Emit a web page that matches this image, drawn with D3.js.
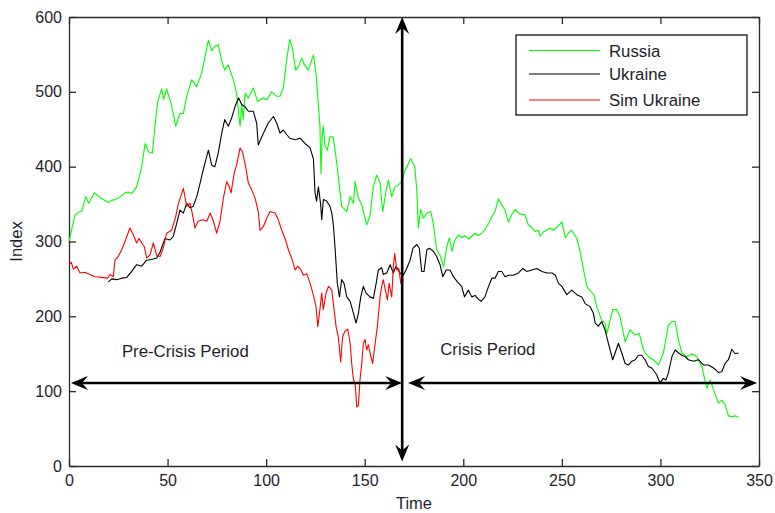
<!DOCTYPE html>
<html>
<head>
<meta charset="utf-8">
<script src="https://cdn.jsdelivr.net/npm/d3@7/dist/d3.min.js"></script>
<style>
  html, body { margin: 0; padding: 0; background: #fff; }
  svg { display: block; font-family: Arial, "Liberation Sans", sans-serif; }
</style>
</head>
<body>
<svg id="chart" width="775" height="513"></svg>
<script>
// Index series: [time, index value]
const russia = [[0,300],[1.5,318],[3,335],[4.7,339],[6.4,340],[8.5,360],[10,351],[11.5,358],[13,365],[14.5,362],[16,358],[18,355],[20,352],[21.5,355],[23.3,356],[25,358],[27,362],[28.4,365],[30,366],[31.8,364],[34.3,373],[35.5,385],[36.9,400],[38.6,431],[40.3,420],[42.3,418],[43.6,454],[45,487],[47,504],[48,490],[49.5,504],[51.7,485],[53,470],[54.1,454],[56.3,471],[58,471],[59.7,494],[62.2,516],[63.5,512],[64.8,507],[67.3,525],[69,547],[70.7,569],[72.4,555],[74,561],[75.7,563],[77.5,541],[79,529],[80.8,536],[83.4,516],[85,498],[86.8,454],[87.6,483],[88.4,463],[89.3,498],[91,492],[93.5,505],[95.7,487],[98.6,492],[100.3,489],[102.8,500],[105.4,494],[107,494],[108.7,505],[110.4,543],[112,570],[113.3,559],[115,529],[116.5,534],[118,545],[119.5,536],[121.4,529],[124,549],[125.3,525],[126.3,490],[127.3,454],[127.8,391],[128.4,439],[129,454],[129.8,428],[131,422],[132.4,440],[134,440],[135,422],[136.6,387],[138.3,347],[140.9,340],[142.6,360],[144.3,351],[145.1,380],[146.8,358],[148.5,349],[151,322],[152.7,335],[154.4,373],[156.1,389],[157.8,378],[159.1,340],[160.8,367],[162,382],[163.7,360],[165.4,373],[166.8,375],[168.8,380],[170.5,396],[171.5,400],[173.3,411],[175.4,400],[176.4,369],[177.2,318],[178.4,343],[179.8,331],[181.5,338],[183.5,340],[184.8,324],[186.5,289],[188.2,282],[190,266],[191.6,293],[193,305],[194.2,287],[195.8,302],[197.5,309],[199.2,305],[200.9,308],[202.6,303],[204.3,307],[206,311],[207.7,308],[209.4,311],[211,316],[212.8,324],[214.5,333],[216.1,340],[217.8,357],[219.5,349],[221.2,342],[222.9,326],[224.6,336],[226.3,343],[228,338],[229.6,336],[231.3,336],[233,322],[234.7,319],[236.4,313],[238.1,315],[239,307],[240.7,313],[242.4,315],[244,318],[245.7,315],[247.4,319],[250,326],[251.8,305],[253.5,312],[255,315],[257.6,304],[259.3,286],[261,262],[262.7,240],[264,235],[266.2,229],[267.7,213],[270.2,195],[271.9,191],[272.8,177],[274.5,195],[275.8,209],[277.8,209],[279.5,200],[282.1,166],[284.6,182],[287.2,175],[289.3,177],[291.4,155],[293.9,146],[296.4,142],[299,135],[301.5,151],[304,188],[305.8,193],[307.5,193],[309.2,168],[310.9,151],[313.4,146],[316,150],[318.5,146],[321,133],[323.5,104],[325.2,115],[326.9,102],[329.4,84],[331.1,88],[332.8,82],[334.5,67],[336.2,66],[338,67],[339.6,65]];

const ukraine = [[20,246],[21.7,250],[24.2,249],[26.7,251],[29.3,252],[31.8,260],[34.3,269],[36.9,267],[39.4,275],[41.9,276],[44.5,278],[46.2,286],[48.7,304],[51.2,302],[52.9,307],[54.6,324],[56.3,342],[58,338],[59.7,351],[61.4,345],[63,347],[64.8,360],[66.5,378],[68.1,396],[70.7,422],[72.4,402],[74,400],[75.7,418],[77.5,445],[79,463],[80.8,454],[82.5,465],[84.2,480],[86,492],[87.6,483],[89.3,480],[91,474],[93.5,474],[95.2,458],[96,429],[97.8,440],[99.4,449],[101,458],[103.7,467],[105.4,458],[107,445],[108.7,449],[110.4,443],[112,438],[114.7,436],[117.2,438],[119.7,431],[122.3,425],[124,410],[124.8,365],[125.6,354],[126.5,373],[127.6,351],[128.2,329],[129,356],[130.7,354],[132.4,347],[133.3,338],[134.1,322],[135,290],[136.1,244],[137.2,226],[138.3,249],[139.5,244],[140.9,226],[142.6,220],[144.3,204],[145.6,191],[146.8,204],[148,226],[149.3,240],[150.7,231],[152.7,226],[154.4,224],[155.8,244],[156.9,262],[158.6,265],[159.4,256],[161.2,258],[162.9,269],[164.5,258],[165.9,267],[167.9,258],[169.6,255],[171.3,264],[173,275],[174.5,291],[176.4,296],[177.7,291],[178.9,260],[180.1,260],[181.5,289],[182.8,291],[184.8,287],[186.5,280],[188.2,269],[189.6,253],[191.3,262],[193.3,262],[195,253],[197,246],[199.2,240],[200.6,226],[202.6,235],[204.3,226],[206,228],[207.2,224],[209,220],[211,226],[212.8,240],[214.5,251],[216.1,251],[217.8,260],[219.5,260],[221.2,253],[222.9,255],[225.4,255],[228,258],[230.2,264],[232.2,260],[234.7,262],[237.3,264],[239.9,260],[242.4,258],[245,258],[246.7,255],[248.3,244],[250,240],[252.5,229],[255,235],[257.6,229],[260.1,226],[261.8,217],[264.3,213],[266,204],[266.9,191],[268.5,187],[270.2,193],[271.9,182],[273.6,164],[275.8,142],[277,151],[278.7,164],[280.4,151],[282.1,137],[283.8,135],[285.5,140],[287.2,142],[288.8,148],[290.5,148],[292.2,142],[293.9,133],[295.6,131],[298.1,122],[299.8,111],[301.5,117],[302.8,115],[304,124],[305.8,146],[307.5,155],[309.2,151],[310.9,148],[312.6,146],[314.2,142],[316.8,140],[319.3,142],[321.8,135],[324.4,135],[326.9,131],[329.4,125],[331.1,126],[332.8,137],[334.5,142],[336.2,156],[337.9,150],[339.6,151]];

const simUkraine = [[0,269],[1.2,272],[2.2,263],[3.9,267],[5.6,258],[8.1,259],[10.6,256],[13.2,253],[16.5,252],[19.6,251],[20.8,256],[22.5,253],[23.3,275],[25,280],[26.7,289],[28.4,300],[30.9,318],[32.6,309],[34.3,298],[35.5,304],[36.9,298],[38.2,293],[39.4,278],[41.1,282],[42.8,298],[44.5,281],[46.2,280],[47.8,291],[49.5,311],[52.1,315],[54.1,333],[55.5,351],[58,371],[59.7,347],[61.4,351],[62.5,338],[63.9,318],[65.5,327],[68,329],[69.9,327],[71.6,338],[73.3,327],[74.9,311],[76.6,327],[78.3,358],[80,380],[81.2,374],[82.2,365],[83.9,393],[85,402],[86.8,425],[88,420],[89.6,400],[91,378],[92.7,369],[94.4,358],[96,340],[96.9,315],[98.6,320],[100.3,331],[102,340],[104.5,338],[106.2,329],[107.9,315],[109.6,304],[111.3,289],[113.3,275],[114.7,262],[116,267],[117.7,262],[118.9,255],[120.6,257],[122.3,244],[124,228],[125.3,213],[126.2,186],[127.3,210],[128.2,231],[129,209],[130.4,231],[131.6,240],[133.3,235],[134.1,217],[135.5,186],[136.6,173],[137.8,139],[138.8,173],[140,180],[141.4,183],[142.6,164],[143.4,137],[144.3,115],[145.1,111],[146,79],[146.8,81],[147.6,115],[148.5,137],[149.3,164],[150.2,169],[151,155],[151.9,162],[152.7,151],[154,137],[155.3,164],[156.4,186],[157.8,226],[158.6,240],[159.4,249],[160.5,235],[161.5,222],[162.4,244],[163.7,226],[164.5,266],[165.2,284],[166.3,262],[167.3,264],[168.3,244],[169.6,249]];

const seriesNames = ["Russia", "Ukraine", "Sim Ukraine"];
const seriesColors = ["#00ff00", "#000000", "#ff0000"];

const xTicks = [0, 50, 100, 150, 200, 250, 300, 350];
const yTicks = [0, 100, 200, 300, 400, 500, 600];

// Period divider and span arrows, in data units
const crisisStart = 169;
const spanLevel = 111;
const preCrisisSpan = [1, 169];
const crisisSpan = [172, 349];
const dividerSpan = [6, 600];
const periodLabels = [
  { text: "Pre-Crisis Period", t: 59, v: 146, anchor: "middle" },
  { text: "Crisis Period", t: 188.3, v: 148, anchor: "start" }
];

const svg = d3.select("#chart");
const plot = { left: 69, right: 759, top: 17, bottom: 466 };

const x = d3.scaleLinear().domain([0, 350]).range([plot.left, plot.right]);
const y = d3.scaleLinear().domain([0, 600]).range([plot.bottom, plot.top]);

svg.append("rect").attr("width", 775).attr("height", 513).attr("fill", "#fff");

// Axes (box with inward ticks on all four sides)
const axisColor = "#2b2b2b";
const textColor = "#1e1e2a";
const tickLen = 7;
function styleAxis(g) {
  g.selectAll("path.domain").attr("stroke", axisColor).attr("stroke-width", 1.3);
  g.selectAll(".tick line").attr("stroke", axisColor).attr("stroke-width", 1.3);
  g.selectAll(".tick text").attr("fill", textColor).attr("font-size", 16)
    .attr("font-family", "Arial, 'Liberation Sans', sans-serif");
}

svg.append("g").attr("transform", `translate(0,${plot.bottom})`)
  .call(d3.axisBottom(x).tickValues(xTicks).tickSizeInner(-tickLen).tickSizeOuter(0).tickPadding(9))
  .call(styleAxis);
svg.append("g").attr("transform", `translate(0,${plot.top})`)
  .call(d3.axisTop(x).tickValues(xTicks).tickSizeInner(-tickLen).tickSizeOuter(0).tickFormat(""))
  .call(styleAxis);
svg.append("g").attr("transform", `translate(${plot.left},0)`)
  .call(d3.axisLeft(y).tickValues(yTicks).tickSizeInner(-tickLen).tickSizeOuter(0).tickPadding(7))
  .call(styleAxis);
svg.append("g").attr("transform", `translate(${plot.right},0)`)
  .call(d3.axisRight(y).tickValues(yTicks).tickSizeInner(-tickLen).tickSizeOuter(0).tickFormat(""))
  .call(styleAxis);

// Axis titles
svg.append("text").attr("x", x(175)).attr("y", 508.5).attr("text-anchor", "middle")
  .attr("font-size", 16.5).attr("fill", textColor).text("Time");
svg.append("text").attr("transform", `translate(22,${y(300)}) rotate(-90)`)
  .attr("text-anchor", "middle").attr("font-size", 16.5).attr("fill", textColor).text("Index");

// Series lines
const line = d3.line().x(d => x(d[0])).y(d => y(d[1]));
[russia, ukraine, simUkraine].forEach((data, i) => {
  svg.append("path").datum(data)
    .attr("fill", "none")
    .attr("stroke", seriesColors[i])
    .attr("stroke-width", 1.1)
    .attr("stroke-linejoin", "round")
    .attr("d", line);
});

// Arrows
function arrowHead(tx, ty, angle) {
  const L = 17, W = 14, notch = 11;
  const pts = [[0, 0], [-L, -W / 2], [-notch, 0], [-L, W / 2]];
  const a = angle * Math.PI / 180;
  const p = pts.map(([px, py]) => [tx + px * Math.cos(a) - py * Math.sin(a), ty + px * Math.sin(a) + py * Math.cos(a)]);
  svg.append("path").attr("d", "M" + p.map(d => d.join(",")).join("L") + "Z").attr("fill", "#000");
}
function doubleArrowH(t0, t1, v) {
  svg.append("line").attr("x1", x(t0) + 8).attr("x2", x(t1) - 8)
    .attr("y1", y(v)).attr("y2", y(v)).attr("stroke", "#000").attr("stroke-width", 2.6);
  arrowHead(x(t0), y(v), 180);
  arrowHead(x(t1), y(v), 0);
}
doubleArrowH(preCrisisSpan[0], preCrisisSpan[1], spanLevel);
doubleArrowH(crisisSpan[0], crisisSpan[1], spanLevel);

svg.append("line").attr("x1", x(crisisStart)).attr("x2", x(crisisStart))
  .attr("y1", y(dividerSpan[1]) + 8).attr("y2", y(dividerSpan[0]) - 8)
  .attr("stroke", "#000").attr("stroke-width", 2.6);
arrowHead(x(crisisStart), y(dividerSpan[1]), -90);
arrowHead(x(crisisStart), y(dividerSpan[0]), 90);

// Period labels
periodLabels.forEach(l => {
  svg.append("text").attr("x", x(l.t)).attr("y", y(l.v))
    .attr("text-anchor", l.anchor).attr("font-size", 16.8).attr("fill", textColor).text(l.text);
});

// Legend
const lg = svg.append("g").attr("transform", "translate(516,35)");
lg.append("rect").attr("width", 231).attr("height", 80)
  .attr("fill", "#fff").attr("stroke", "#000").attr("stroke-width", 1.2);
const rowY = [15.5, 39, 65];
seriesNames.forEach((name, i) => {
  lg.append("line").attr("x1", 13).attr("x2", 84).attr("y1", rowY[i]).attr("y2", rowY[i])
    .attr("stroke", seriesColors[i]).attr("stroke-width", 1.1);
  lg.append("text").attr("x", 93).attr("y", rowY[i] + 6).attr("font-size", 16.8)
    .attr("fill", textColor).text(name);
});
</script>
</body>
</html>
